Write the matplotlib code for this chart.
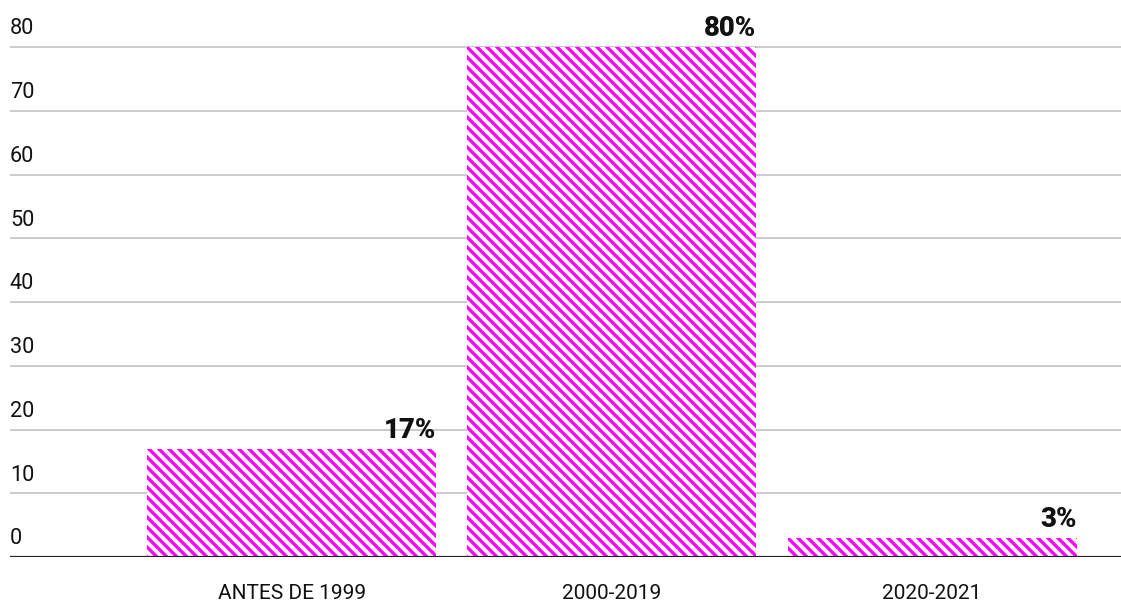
import numpy as np
import matplotlib.pyplot as plt

# data
categories = ['ANTES DE 1999', '2000-2019', '2020-2021']
values = [17, 80, 3]
labels = ['17%', '80%', '3%']
yticks = [0, 10, 20, 30, 40, 50, 60, 70, 80]

plt.rcParams['font.family'] = ['Roboto', 'DejaVu Sans']
plt.rcParams['hatch.linewidth'] = 2.0
plt.rcParams['hatch.color'] = '#ff00ff'

dpi = 120
fig = plt.figure(figsize=(1121 / dpi, 601 / dpi), dpi=dpi)
ax = fig.add_axes([10 / 1121, 44 / 601, 1111 / 1121, 522.75 / 601])

x = np.arange(len(categories))
width = 0.903
ax.bar(x, values, width=width, color='white', edgecolor='#ff00ff',
       linewidth=0, hatch='\\\\\\\\', zorder=2)

ax.set_xlim(-0.88, 2.59)
ax.set_ylim(0, 82)

# gridlines and tick labels above them
for t in yticks[1:]:
    ax.axhline(t, color='#cccccc', linewidth=1.2, zorder=1)
for t in yticks:
    ax.text(0, t + 1.2, str(t), transform=ax.get_yaxis_transform(),
            ha='left', va='bottom', fontsize=13, color='#111111')
ax.axhline(0, color='#222222', linewidth=1.3, zorder=3)

# value labels
for xi, v, lab in zip(x, values, labels):
    ax.text(xi + width / 2, v + 0.8, lab, ha='right', va='bottom',
            fontsize=16.5, fontweight='black', color='#111111')

ax.set_yticks([])
ax.set_xticks(x)
ax.set_xticklabels(categories, fontsize=12.5, color='#111111')
ax.tick_params(axis='x', length=0, pad=16)
for s in ax.spines.values():
    s.set_visible(False)

fig.savefig('out.png', dpi=dpi)
